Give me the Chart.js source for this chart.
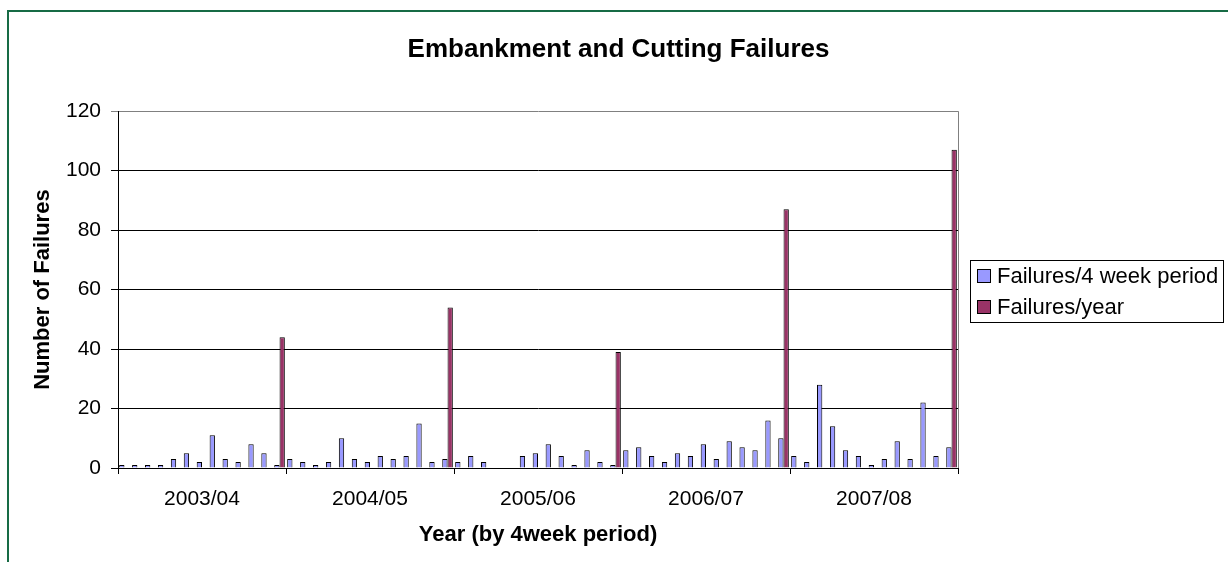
<!DOCTYPE html>
<html>
<head>
<meta charset="utf-8">
<script src="https://cdn.jsdelivr.net/npm/chart.js@4.4.1/dist/chart.umd.min.js"></script>
<style>
  html, body { margin: 0; padding: 0; background: #fff; overflow: hidden; }
  #frame {
    position: absolute; left: 7px; top: 10px;
    width: 1221px; height: 552px;
    border-left: 2px solid #176b45; border-top: 2px solid #176b45;
  }
  #chart { display: block; }
</style>
</head>
<body>
<div id="frame"><canvas id="chart" width="1219" height="550"></canvas></div>
<script>
// data
const years = ['2003/04', '2004/05', '2005/06', '2006/07', '2007/08'];
const periodsPerYear = 13;
const periodFailures = [
    1, 1, 1, 1, 3, 5, 2, 11, 3, 2, 8, 5, 1,      // 2003/04
    3, 2, 1, 2, 10, 3, 2, 4, 3, 4, 15, 2, 3,     // 2004/05
    2, 4, 2, 0, 0, 4, 5, 8, 4, 1, 6, 2, 1,       // 2005/06
    6, 7, 4, 2, 5, 4, 8, 3, 9, 7, 6, 16, 10,     // 2006/07
    4, 2, 28, 14, 6, 4, 1, 3, 9, 3, 22, 4, 7     // 2007/08
];
const yearFailures = [44, 54, 39, 87, 107];
const yTicks = [0, 20, 40, 60, 80, 100, 120];

const FONT = "'Liberation Sans', Arial, sans-serif";

// one category per 4 week period, yearly total sits on the last period
const labels = [];
const yearSeries = [];
years.forEach((y, yi) => {
    for (let p = 0; p < periodsPerYear; p++) {
        labels.push(y + ' P' + (p + 1));
        yearSeries.push(p === periodsPerYear - 1 ? yearFailures[yi] : null);
    }
});

const legendBox = {
    id: 'legendBox',
    afterDraw(chart) {
        const ctx = chart.ctx;
        const x = 961, y = 248, w = 253, h = 62;
        ctx.save();
        ctx.fillStyle = '#fff';
        ctx.fillRect(x, y, w, h);
        ctx.strokeStyle = '#000';
        ctx.lineWidth = 1;
        ctx.strokeRect(x + 0.5, y + 0.5, w, h);
        ctx.font = '22px ' + FONT;
        ctx.textBaseline = 'middle';
        chart.data.datasets.forEach((ds, i) => {
            const cy = y + 16 + i * 31;
            ctx.fillStyle = ds.backgroundColor;
            ctx.fillRect(x + 7, cy - 7, 14, 14);
            ctx.strokeRect(x + 7.5, cy - 6.5, 13, 13);
            ctx.fillStyle = '#000';
            ctx.fillText(ds.label, x + 27, cy + 1);
        });
        ctx.restore();
    }
};

const plotFrame = {
    id: 'plotFrame',
    afterDraw(chart) {
        const a = chart.chartArea, ctx = chart.ctx;
        ctx.save();
        ctx.strokeStyle = '#808080';
        ctx.lineWidth = 1;
        ctx.beginPath();
        ctx.moveTo(Math.round(a.right) + 0.5, a.top);
        ctx.lineTo(Math.round(a.right) + 0.5, a.bottom);
        ctx.stroke();
        ctx.restore();
    }
};

const chart = new Chart(document.getElementById('chart').getContext('2d'), {
    type: 'bar',
    data: {
        labels: labels,
        datasets: [{
            label: 'Failures/4 week period',
            data: periodFailures,
            backgroundColor: '#9999ff',
            borderColor: '#000',
            borderWidth: 1
        }, {
            label: 'Failures/year',
            data: yearSeries,
            backgroundColor: '#993366',
            borderColor: '#000',
            borderWidth: 1
        }]
    },
    options: {
        responsive: false,
        animation: false,
        categoryPercentage: 0.82,
        barPercentage: 1.0,
        layout: { padding: 0 },
        plugins: {
            legend: { display: false },
            tooltip: { enabled: false },
            title: {
                display: true,
                text: 'Embankment and Cutting Failures',
                color: '#000',
                font: { family: FONT, size: 26, weight: 'bold' },
                padding: { top: 22, bottom: 46 }
            }
        },
        scales: {
            x: {
                grid: {
                    drawOnChartArea: false,
                    tickLength: 6,
                    color: (c) => (c.index === undefined || c.index % periodsPerYear === 0) ? '#000' : 'rgba(0,0,0,0)'
                },
                border: { color: '#000', width: 1 },
                ticks: {
                    autoSkip: false,
                    maxRotation: 0,
                    padding: 13,
                    color: '#000',
                    font: { family: FONT, size: 21 },
                    callback: (v, i) => i % periodsPerYear === 6 ? years[Math.floor(i / periodsPerYear)] : ''
                },
                title: {
                    display: true,
                    text: 'Year (by 4week period)',
                    color: '#000',
                    font: { family: FONT, size: 22, weight: 'bold' },
                    padding: { top: 0, bottom: 14 }
                },
                afterFit: (s) => { s.height = 94; }
            },
            y: {
                min: 0,
                max: 120,
                afterBuildTicks: (s) => { s.ticks = yTicks.map(v => ({ value: v })); },
                grid: {
                    tickLength: 7,
                    color: (c) => c.tick && c.tick.value === 120 ? '#808080' : '#000'
                },
                border: { color: '#000', width: 1 },
                ticks: {
                    padding: 10,
                    color: '#000',
                    font: { family: FONT, size: 21 }
                },
                title: {
                    display: true,
                    text: 'Number of Failures',
                    color: '#000',
                    font: { family: FONT, size: 22, weight: 'bold' },
                    padding: { top: 21, bottom: 0 }
                },
                afterFit: (s) => { s.width = 109; }
            },
            // empty space on the right that holds the legend
            side: {
                position: 'right',
                display: true,
                grid: { display: false },
                border: { display: false },
                ticks: { display: false },
                afterFit: (s) => { s.width = 270; }
            }
        }
    },
    plugins: [plotFrame, legendBox]
});
</script>
</body>
</html>
